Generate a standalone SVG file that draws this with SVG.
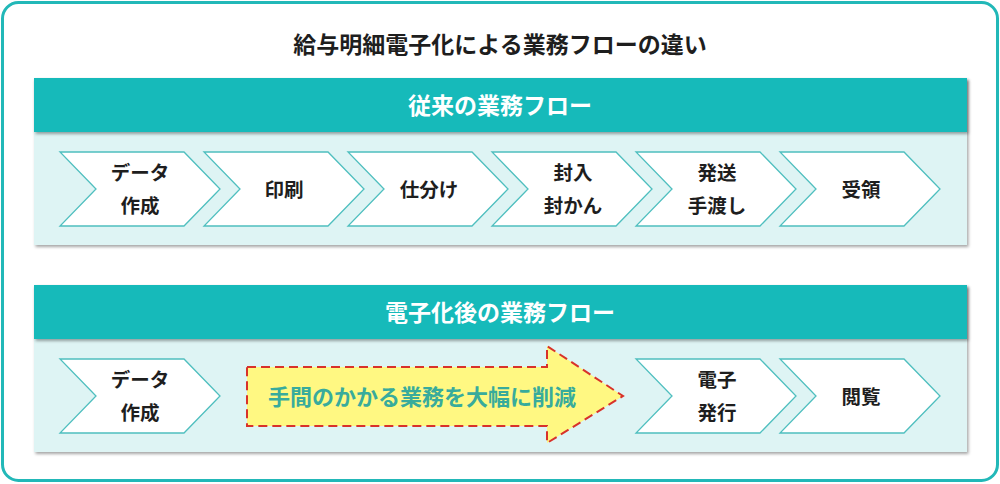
<svg xmlns="http://www.w3.org/2000/svg" width="1000" height="484" viewBox="0 0 1000 484">
<style>
text{font-family:"Noto Sans CJK JP","Noto Sans",sans-serif;text-anchor:middle;dominant-baseline:central}
.title{font-size:23px;font-weight:bold;fill:#1e1e1e}
.hdr{font-size:23px;font-weight:bold;fill:#ffffff}
.lbl{font-size:19.5px;font-weight:bold;fill:#1e1e1e}
.chev{fill:#ffffff;stroke:#4fbfbf;stroke-width:1.3}
.head{fill:#13baba}
.body{fill:#def4f4}
.big{font-size:22px;font-weight:bold;fill:#38ab9c}
</style>
<defs>
<filter id="sh" x="-5%" y="-5%" width="110%" height="120%">
<feDropShadow dx="1.5" dy="2" stdDeviation="1.5" flood-color="#000" flood-opacity="0.35"/>
</filter>
<path id="ch" d="M0,0 H124 L160,37 L124,74 H0 L36,37 Z"/>
</defs>
<rect x="2.5" y="2.5" width="995" height="478" rx="16" fill="#ffffff" stroke="#22b8b8" stroke-width="3"/>
<text class="title" x="500" y="43">給与明細電子化による業務フローの違い</text>

<g id="panel1">
<rect class="body" x="34" y="78" width="933" height="167" filter="url(#sh)"/>
<rect class="head" x="34" y="78" width="933" height="54" filter="url(#sh)"/>
<text class="hdr" x="500" y="104">従来の業務フロー</text>
</g>
<g id="n1"><use href="#ch" class="chev" x="60" y="152"/><text class="lbl" x="140" y="171">データ</text><text class="lbl" x="140" y="204">作成</text></g>
<g id="n2"><use href="#ch" class="chev" x="204" y="152"/><text class="lbl" x="284" y="188">印刷</text></g>
<g id="n3"><use href="#ch" class="chev" x="348" y="152"/><text class="lbl" x="429" y="188">仕分け</text></g>
<g id="n4"><use href="#ch" class="chev" x="492" y="152"/><text class="lbl" x="573" y="171">封入</text><text class="lbl" x="573" y="204">封かん</text></g>
<g id="n5"><use href="#ch" class="chev" x="636" y="152"/><text class="lbl" x="717" y="171">発送</text><text class="lbl" x="717" y="204">手渡し</text></g>
<g id="n6"><use href="#ch" class="chev" x="780" y="152"/><text class="lbl" x="861" y="188">受領</text></g>

<g id="panel2">
<rect class="body" x="34" y="285" width="933" height="167" filter="url(#sh)"/>
<rect class="head" x="34" y="285" width="933" height="54" filter="url(#sh)"/>
<text class="hdr" x="500" y="311">電子化後の業務フロー</text>
</g>
<g id="m1"><use href="#ch" class="chev" x="60" y="359"/><text class="lbl" x="140" y="378">データ</text><text class="lbl" x="140" y="411">作成</text></g>
<g id="arrow">
<path d="M247,367 H547 V346 L623,396 L547,443 V426 H247 Z" fill="#fff882" stroke="#d8322a" stroke-width="2" stroke-dasharray="9,5"/>
<text class="big" x="422" y="395">手間のかかる業務を大幅に削減</text>
</g>
<g id="m2"><use href="#ch" class="chev" x="636" y="359"/><text class="lbl" x="717" y="378">電子</text><text class="lbl" x="717" y="411">発行</text></g>
<g id="m3"><use href="#ch" class="chev" x="780" y="359"/><text class="lbl" x="861" y="395">閲覧</text></g>
<g id="connectors"></g>
</svg>
